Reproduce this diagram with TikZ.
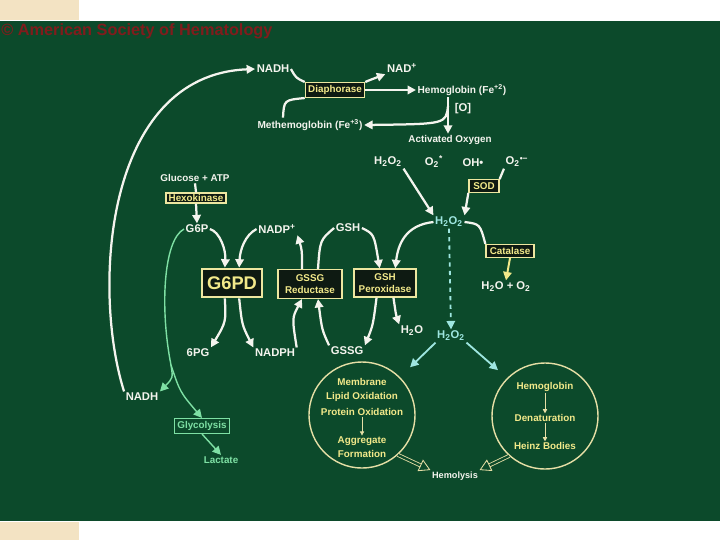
\documentclass[tikz,border=0pt]{standalone}
\usepackage{fontspec}
\setmainfont{Liberation Sans}
\usepackage{xcolor}
\usetikzlibrary{arrows.meta,positioning,calc}
\definecolor{slideGreen}{HTML}{0C4A2B}
\definecolor{tabBeige}{HTML}{F3E3C3}
\definecolor{chalk}{HTML}{F4F4EE}
\definecolor{aqua}{HTML}{9EE6E0}
\definecolor{mint}{HTML}{7EE0A4}
\definecolor{boxYel}{HTML}{EDE7A0}
\definecolor{boxText}{HTML}{F2E98A}
\definecolor{boxDark}{HTML}{0E1A12}
\definecolor{ringYel}{HTML}{E6DFA6}
\definecolor{ashRed}{HTML}{801C1C}

\begin{document}
\begin{tikzpicture}[x=0.025cm, y=-0.025cm, >={Triangle[length=6pt,width=6pt]},
  lbl/.style={text=chalk,font=\bfseries\fontsize{8}{9}\selectfont,inner sep=1pt},
  enz/.style={draw=boxYel,fill=boxDark,text=boxText,line width=0.9pt,
    font=\bfseries\fontsize{7}{8}\selectfont,inner sep=2pt,align=center},
  wflow/.style={chalk,line width=1.6pt},
  cflow/.style={aqua,line width=1.3pt},
  gflow/.style={mint,line width=1pt},
  ring/.style={circle,draw=ringYel,line width=1pt,minimum size=2.65cm,inner sep=0pt},
  rtxt/.style={text=boxText,font=\bfseries\fontsize{7}{8}\selectfont,inner sep=0.5pt},
  hollow/.style={draw=ringYel,double=slideGreen,double distance=1.6pt,line width=0.6pt,
    -{Triangle[open,length=8pt,width=9pt]}}]
% --- slide ---
\fill[white] (0,0) rectangle (720,540);
\fill[slideGreen] (0,21) rectangle (720,521);
\fill[tabBeige] (0,0) rectangle (79,20);
\fill[tabBeige] (0,522) rectangle (79,540);
\useasboundingbox (0,0) rectangle (720,540);
\node[anchor=west,text=ashRed,font=\bfseries\fontsize{11.6}{13}\selectfont,inner sep=0pt]
  (copyr) at (1,31) {\textcopyright\ American Society of Hematology};
% --- methemoglobin reduction ---
\node[lbl] (nadhT) at (273,69) {NADH};
\node[lbl] (nadP) at (402,68) {NAD\textsuperscript{+}};
\node[enz,minimum width=1.4cm] (diaph) at (335,90) {Diaphorase};
\node[lbl,font=\bfseries\fontsize{7.2}{8}\selectfont] (hbII) at (462,90) {Hemoglobin (Fe\textsuperscript{+2})};
\node[lbl] (oxy) at (463,109) {[O]};
\node[lbl,font=\bfseries\fontsize{7.2}{8}\selectfont] (methb) at (310,125) {Methemoglobin (Fe\textsuperscript{+3})};
\node[lbl,font=\bfseries\fontsize{7}{8}\selectfont] (actox) at (450,140) {Activated Oxygen};
\coordinate (hbfoot) at (448,97);
\coordinate (obranch) at (448,106);
\draw[wflow] (nadhT.east) .. controls (296,78) .. (diaph.north west);
\draw[wflow,->] (diaph.north east) .. controls (370,80) .. (nadP.south west);
\draw[wflow,->] (diaph.east) -- (hbII.west);
\draw[wflow] ($(methb.north)+(-27,0)$) .. controls (284,100) .. (diaph.south west);
\draw[wflow,->] (hbfoot) -- (hbfoot |- actox.north);
\draw[wflow,->] (obranch) .. controls (446,124) .. (methb.east);
% --- oxidants ---
\node[lbl] (hooT) at (388,162) {H\textsubscript{2}O\textsubscript{2}};
\node[lbl] (otwo) at (434,162) {O\textsubscript{2}\textsuperscript{*}};
\node[lbl] (ohr) at (473,163) {OH•};
\node[lbl] (supox) at (517,162) {O\textsubscript{2}\textsuperscript{•−}};
\node[enz,minimum width=0.75cm] (sod) at (484,186) {SOD};
\node[lbl,text=aqua] (hooC) at (449,222) {H\textsubscript{2}O\textsubscript{2}};
\node[enz,minimum width=1.2cm] (catal) at (510,251) {Catalase};
\node[lbl] (waterO) at (506,287) {H\textsubscript{2}O + O\textsubscript{2}};
\node[lbl,text=aqua] (hooL) at (451,336) {H\textsubscript{2}O\textsubscript{2}};
\node[lbl] (water) at (412,331) {H\textsubscript{2}O};
\draw[wflow,->] (hooT.south east) -- (hooC.north west);
\draw[wflow] (supox.south west) -- (sod.north east);
\draw[wflow,->] (sod.south west) -- (hooC.north east);
\draw[wflow] (hooC.east) .. controls (480,224) .. (catal.north west);
\draw[boxText,line width=1.4pt,->] (catal.south) -- (waterO.north);
\draw[cflow,dashed,->] (hooC.south) -- (hooL.north);
% --- hexose monophosphate shunt ---
\node[lbl,font=\bfseries\fontsize{7}{8}\selectfont] (gluc) at (195,178) {Glucose + ATP};
\node[enz,minimum width=1.5cm,inner sep=1pt] (hexo) at (196,198) {Hexokinase};
\node[lbl] (gsixp) at (197,229) {G6P};
\node[lbl] (nadpP) at (277,229) {NADP\textsuperscript{+}};
\node[lbl] (gshT) at (348,228) {GSH};
\node[enz,minimum width=1.5cm,minimum height=0.72cm,font=\bfseries\fontsize{13}{14}\selectfont,line width=1.4pt] (gsixpd) at (232,283) {G6PD};
\node[enz,minimum width=1.6cm,minimum height=0.72cm] (gssgR) at (310,284) {GSSG\\Reductase};
\node[enz,minimum width=1.55cm,minimum height=0.7cm] (gshP) at (385,283) {GSH\\Peroxidase};
\node[lbl] (pgsix) at (198,353) {6PG};
\node[lbl] (nadph) at (275,353) {NADPH};
\node[lbl] (gssgB) at (347,351) {GSSG};
\draw[wflow] (gluc.south) -- (hexo.north);
\draw[wflow,->] (hexo.south) -- (gsixp.north);
\draw[wflow,->] (gsixp.east) .. controls (220,232) and (226,250) .. (gsixpd.115);
\draw[wflow,->] (nadpP.west) .. controls (245,235) and (240,250) .. (gsixpd.65);
\draw[wflow,->] (gsixpd.245) .. controls (226,322) .. (pgsix.north east);
\draw[wflow,->] (gsixpd.295) .. controls (242,325) .. (nadph.north west);
\draw[wflow,->] (nadph.north east) .. controls (292,318) .. (gssgR.242);
\draw[wflow,->] (gssgR.118) .. controls (302,250) .. (nadpP.south east);
\draw[wflow,->] (gssgB.north west) .. controls (322,330) .. (gssgR.298);
\draw[wflow] (gssgR.62) .. controls (320,240) .. (gshT.west);
\draw[wflow,->] (gshT.east) .. controls (374,234) .. (gshP.110);
\draw[wflow,->] (hooC.west) .. controls (405,225) and (398,245) .. (gshP.55);
\draw[wflow,->] (gshP.240) .. controls (373,325) .. (gssgB.north east);
\draw[wflow,->] (gshP.300) .. controls (396,315) .. (water.north west);
% --- NADH and glycolysis ---
\node[lbl] (nadhB) at (142,397) {NADH};
\node[enz,draw=mint,text=mint,fill=slideGreen,minimum width=1.38cm] (glyco) at (202,426) {Glycolysis};
\node[lbl,text=mint,font=\bfseries\fontsize{7}{8}\selectfont] (lact) at (221,460) {Lactate};
\coordinate (fork) at (171,365);
\draw[wflow,->] (nadhB.north west) .. controls (92,290) and (104,75) .. (nadhT.west);
\draw[gflow] (gsixp.west) .. controls (163,240) and (160,310) .. (fork);
\draw[gflow,->] (fork) .. controls (173,378) .. (nadhB.north east);
\draw[gflow,->] (fork) .. controls (180,392) .. (glyco.north);
\draw[gflow,->] (glyco.south) -- (lact.north);
% --- damage ---
\node[ring] (membC) at (362,415) {};
\node[rtxt] (memb) at (362,382) {Membrane};
\node[rtxt] (lipid) at (362,397) {Lipid Oxidation};
\node[rtxt] (prot) at (362,412) {Protein Oxidation};
\node[rtxt] (aggr) at (362,441) {Aggregate};
\node[rtxt] (form) at (362,454) {Formation};
\node[ring] (hbC) at (545,416) {};
\node[rtxt] (hbR) at (545,387) {Hemoglobin};
\node[rtxt] (denat) at (545,418) {Denaturation};
\node[rtxt] (heinz) at (545,446) {Heinz Bodies};
\node[lbl,font=\bfseries\fontsize{6.5}{7}\selectfont] (hemol) at (455,476) {Hemolysis};
\draw[ringYel,line width=0.6pt,-{Triangle[length=3pt,width=3pt]}] (prot) -- (aggr);
\draw[ringYel,line width=0.6pt,-{Triangle[length=3pt,width=3pt]}] (hbR) -- (denat);
\draw[ringYel,line width=0.6pt,-{Triangle[length=3pt,width=3pt]}] (denat) -- (heinz);
\draw[cflow,->,shorten >=0.35cm] (hooL.south west) -- (membC.45);
\draw[cflow,->,shorten >=0.3cm] (hooL.south east) -- (hbC.135);
\draw[hollow] (membC.-48) -- (hemol.north west);
\draw[hollow] (hbC.228) -- (hemol.north east);
\end{tikzpicture}
\end{document}
